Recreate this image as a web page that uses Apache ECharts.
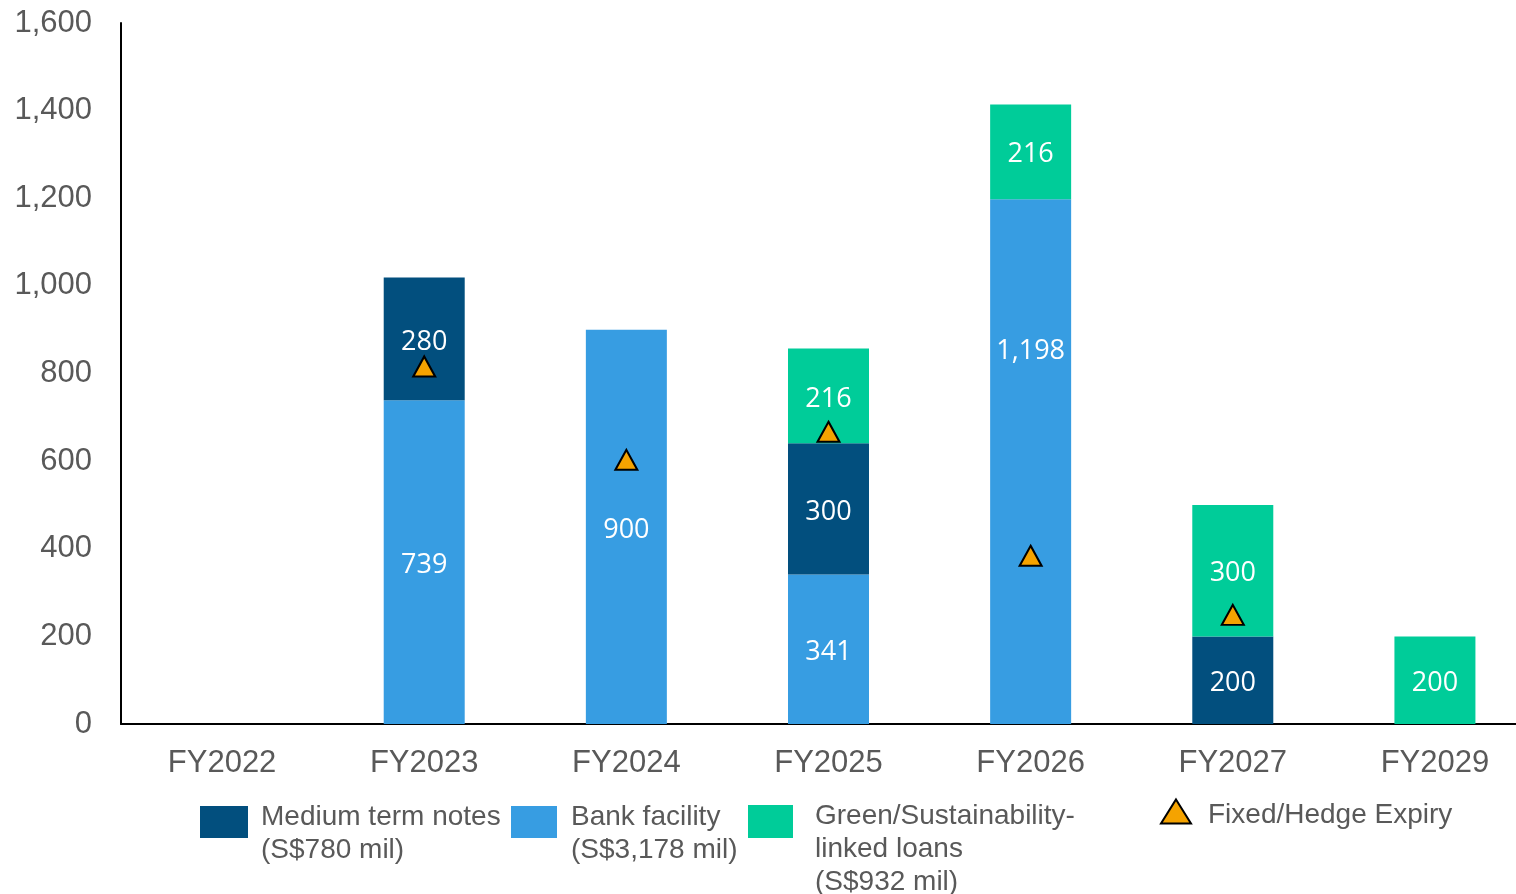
<!DOCTYPE html>
<html>
<head>
<meta charset="utf-8">
<script src="https://cdn.jsdelivr.net/npm/echarts@6/dist/echarts.min.js"></script>
<style>
    html, body { margin: 0; padding: 0; background: #fff; }
    #chart { width: 1516px; height: 894px; }
</style>
</head>
<body>
<div id="chart"></div>
<script>
    // categories and values
    var categories = ['FY2022', 'FY2023', 'FY2024', 'FY2025', 'FY2026', 'FY2027', 'FY2029'];
    var bankFacility = [null, 739, 900, 341, 1198, null, null];
    var mediumTermNotes = [null, 280, null, 300, null, 200, null];
    var greenLoans = [null, null, null, 216, 216, 300, 200];
    var hedgeExpiry = [null, 816, 603, 667, 384, 249, null];
    var yTicks = [0, 200, 400, 600, 800, 1000, 1200, 1400, 1600];

    var legendText = {
        'Medium term notes': ['Medium term notes', '(S$780 mil)'],
        'Bank facility': ['Bank facility', '(S$3,178 mil)'],
        'Green/Sustainability-linked loans': ['Green/Sustainability-', 'linked loans', '(S$932 mil)'],
        'Fixed/Hedge Expiry': ['Fixed/Hedge Expiry']
    };

    var grey = '#595959';
    var fmt = function (v) { return Number(v).toLocaleString('en-US'); };

    var chart = echarts.init(document.getElementById('chart'));

    //柱子上的数字
    var barLabel = {
        show: true,
        position: 'inside',
        offset: [0, 3],
        color: '#fff',
        fontFamily: 'Open Sans',
        fontSize: 27,
        formatter: function (p) { return fmt(p.value); }
    };

    // 图例: 多行文字, 图标对齐第一行
    function legendItem(name, left, top, w, h, spacer, padLeft) {
        return {
            data: [name],
            left: left,
            top: top,
            padding: 0,
            itemWidth: w,
            itemHeight: h,
            icon: name === 'Fixed/Hedge Expiry' ? 'triangle' : 'rect',
            selectedMode: false,
            formatter: function (n) {
                var lines = legendText[n].map(function (s) { return '{t|' + s + '}'; });
                if (spacer) lines.unshift('{s| }');
                return lines.join('\n');
            },
            textStyle: {
                color: grey,
                fontFamily: 'Liberation Sans',
                fontSize: 28,
                padding: [0, 0, 0, padLeft],
                rich: {
                    t: { color: grey, fontFamily: 'Liberation Sans', fontSize: 28, lineHeight: 33 },
                    s: { fontSize: 6, lineHeight: spacer || 1 }
                }
            }
        };
    }

    var option = {
        animation: false,
        backgroundColor: '#fff',
        grid: {
            left: 121,
            top: 23,
            right: -20,
            bottom: 170,
            outerBoundsMode: 'none'
        },
        legend: [
            legendItem('Medium term notes', 200, 786, 48, 32, 23, 8),
            legendItem('Bank facility', 511, 786, 46, 32, 23, 9),
            legendItem('Green/Sustainability-linked loans', 748, 769, 45, 33, 56, 17),
            legendItem('Fixed/Hedge Expiry', 1160, 792, 30, 24, 7, 12)
        ],
        xAxis: {
            type: 'category',
            data: categories,
            axisLine: { show: true, lineStyle: { color: '#000', width: 2 } },
            axisTick: { show: false },
            axisLabel: {
                color: grey,
                fontFamily: 'Liberation Sans',
                fontSize: 31,
                margin: 24
            }
        },
        yAxis: {
            type: 'value',
            min: yTicks[0],
            max: yTicks[yTicks.length - 1],
            interval: 200,
            splitLine: { show: false },
            axisLine: { show: true, lineStyle: { color: '#000', width: 2 } },
            axisTick: { show: false },
            axisLabel: {
                color: grey,
                fontFamily: 'Liberation Sans',
                fontSize: 31,
                margin: 29,
                padding: [4, 0, 0, 0],
                formatter: fmt
            }
        },
        series: [
            {
                name: 'Bank facility',
                type: 'bar',
                stack: 'debt',
                barWidth: 81,
                // FY2026 的数字在原图中偏上
                data: bankFacility.map(function (v, i) {
                    return i === 4 ? { value: v, label: { offset: [0, -110] } } : v;
                }),
                itemStyle: { color: '#379DE2' },
                label: barLabel
            },
            {
                name: 'Medium term notes',
                type: 'bar',
                stack: 'debt',
                barWidth: 81,
                data: mediumTermNotes,
                itemStyle: { color: '#024F7E' },
                label: barLabel
            },
            {
                name: 'Green/Sustainability-linked loans',
                type: 'bar',
                stack: 'debt',
                barWidth: 81,
                data: greenLoans,
                itemStyle: { color: '#00CC99' },
                label: barLabel
            },
            {
                name: 'Fixed/Hedge Expiry',
                type: 'scatter',
                symbol: 'triangle',
                symbolSize: [22, 20],
                z: 5,
                data: hedgeExpiry,
                itemStyle: { color: '#F5A300', borderColor: '#000', borderWidth: 2, opacity: 1 }
            }
        ]
    };

    chart.setOption(option);
</script>
</body>
</html>
